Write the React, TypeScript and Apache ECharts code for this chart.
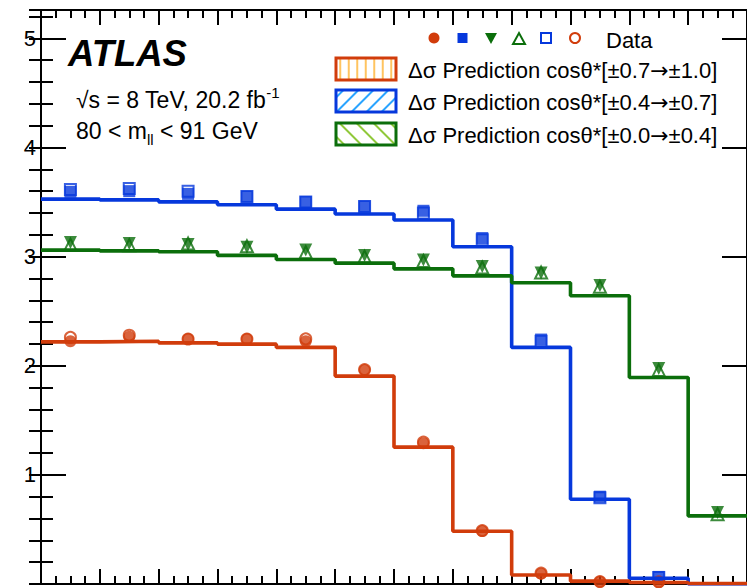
import React, { useEffect, useRef } from "react";
import * as echarts from "echarts";

// 12 bins on the horizontal axis (bin index 0..12)
const binCount = 12;
const yMax = 5.26;
const yTickLabels = ["1", "2", "3", "4", "5"];

// Step predictions, one value per bin
const predOuter = [2.219, 2.225, 2.21, 2.198, 2.168, 1.905, 1.254, 0.484, 0.083, 0.026, 0.014, 0.005]; // cosθ*[±0.7→±1.0]
const predMiddle = [3.527, 3.52, 3.502, 3.475, 3.435, 3.39, 3.335, 3.09, 2.168, 0.777, 0.053, 0.0]; // cosθ*[±0.4→±0.7]
const predCentral = [3.06, 3.053, 3.044, 3.011, 2.974, 2.94, 2.888, 2.824, 2.76, 2.641, 1.893, 0.624]; // cosθ*[±0.0→±0.4]

// Measured points (filled and open markers)
const dataOuterFilled = [2.225, 2.265, 2.245, 2.245, 2.224, 1.96, 1.29, 0.485, 0.095, 0.02, 0.015, null];
const dataOuterOpen = [2.26, 2.28, 2.245, 2.245, 2.246, 1.965, 1.3, 0.49, 0.1, 0.022, 0.02, null];
const dataMiddleFilled = [3.594, 3.6, 3.575, 3.55, 3.5, 3.46, 3.42, 3.17, 2.24, 0.8, 0.065, null];
const dataMiddleOpen = [3.616, 3.625, 3.6, 3.55, 3.5, 3.46, 3.4, 3.155, 2.225, 0.79, 0.06, null];
const dataCentralFilled = [3.13, 3.12, 3.11, 3.085, 3.06, 3.01, 2.97, 2.91, 2.85, 2.735, 1.975, 0.655];
const dataCentralOpen = [3.11, 3.105, 3.12, 3.095, 3.04, 3.0, 2.96, 2.9, 2.855, 2.725, 1.96, 0.64];

const legendRanges = [
  ["0.7", "1.0"],
  ["0.4", "0.7"],
  ["0.0", "0.4"],
];

const ORANGE = "#d13c0b";
const BLUE = "#0638dc";
const GREEN = "#0b6e0b";
const FONT = "'Liberation Sans', Arial, Helvetica, sans-serif";
const ARROW_FONT = "'DejaVu Sans', sans-serif";

function stepPoints(vals: number[]) {
  const pts = vals.map((v, i) => [i, v]);
  pts.push([vals.length, vals[vals.length - 1]]);
  return pts;
}

function centerPoints(vals: (number | null)[]) {
  return vals.map((v, i) => (v === null ? [i + 0.5, "-"] : [i + 0.5, v]));
}

// hatch strokes inside a legend box
function hatch(x0: number, y0: number, w: number, h: number, kind: string, step: number, color: string) {
  const out: any[] = [];
  const st = { stroke: color, lineWidth: 2 };
  if (kind === "v") {
    for (let x = x0 + step / 2; x < x0 + w; x += step) {
      out.push({ type: "line", shape: { x1: x, y1: y0, x2: x, y2: y0 + h }, style: st });
    }
  } else if (kind === "/") {
    for (let k = x0 + y0 + step / 2; k < x0 + w + y0 + h; k += step) {
      const xa = Math.max(x0, k - (y0 + h));
      const xb = Math.min(x0 + w, k - y0);
      if (xa < xb) out.push({ type: "line", shape: { x1: xa, y1: k - xa, x2: xb, y2: k - xb }, style: st });
    }
  } else {
    for (let k = x0 - (y0 + h) + step / 2; k < x0 + w - y0; k += step) {
      const xa = Math.max(x0, k + y0);
      const xb = Math.min(x0 + w, k + y0 + h);
      if (xa < xb) out.push({ type: "line", shape: { x1: xa, y1: xa - k, x2: xb, y2: xb - k }, style: st });
    }
  }
  return out;
}

export default function App() {
  const ref = useRef<HTMLDivElement>(null);

  useEffect(() => {
    if (!ref.current) return;
    const chart = echarts.init(ref.current, null, { renderer: "svg" });

    const black = { color: "#000", width: 2 };
    const xAxisBase = {
      type: "value",
      min: 0,
      max: binCount,
      interval: 1,
      axisLine: { show: true, onZero: false, lineStyle: black },
      axisTick: { show: true, inside: true, length: 15, lineStyle: black },
      minorTick: { show: true, splitNumber: 4, length: 8, lineStyle: black },
      axisLabel: { show: false },
      splitLine: { show: false },
    };
    const yMajor = (position: string, labels: boolean) => ({
      type: "value",
      position,
      min: 0,
      max: yMax,
      interval: 1,
      axisLine: { show: true, onZero: false, lineStyle: black },
      axisTick: { show: true, inside: true, length: 25, lineStyle: black },
      axisLabel: {
        show: labels,
        margin: 5,
        color: "#000",
        fontSize: 22,
        fontFamily: FONT,
        formatter: (v: number) => {
          const s = String(Math.round(v));
          return Math.abs(v - Math.round(v)) < 1e-6 && yTickLabels.includes(s) ? s : "";
        },
      },
      splitLine: { show: false },
    });
    const yMinor = (position: string) => ({
      type: "value",
      position,
      min: 0,
      max: yMax,
      interval: 0.2,
      axisLine: { show: false },
      axisTick: { show: true, inside: true, length: 12, lineStyle: black },
      axisLabel: { show: false },
      splitLine: { show: false },
    });

    const stepSeries = (vals: number[], color: string) => ({
      type: "line",
      step: "end",
      data: stepPoints(vals),
      symbol: "none",
      lineStyle: { color, width: 3.6 },
      xAxisIndex: 0,
      yAxisIndex: 0,
    });
    const markerSeries = (vals: (number | null)[], symbol: string, size: number, color: string, open: boolean, rotate = 0) => ({
      type: "scatter",
      data: centerPoints(vals),
      symbol,
      symbolSize: size,
      symbolRotate: rotate,
      itemStyle: open
        ? { color: "rgba(0,0,0,0)", borderColor: color, borderWidth: 2 }
        : { color },
      xAxisIndex: 0,
      yAxisIndex: 0,
    });

    const g: any[] = [];
    g.push({
      type: "text",
      x: 68,
      y: 53,
      style: { text: "ATLAS", font: `italic bold 36.5px ${FONT}`, fill: "#000", verticalAlign: "middle" },
    });
    g.push({
      type: "text",
      x: 76,
      y: 100,
      style: {
        text: "{n|√s = 8 TeV, 20.2 fb}{s|-1}",
        verticalAlign: "middle",
        rich: {
          n: { fontSize: 23, fontFamily: FONT, fill: "#000", lineHeight: 31 },
          s: { fontSize: 15, fontFamily: FONT, fill: "#000", lineHeight: 15, verticalAlign: "top" },
        },
      },
    });
    g.push({
      type: "text",
      x: 76,
      y: 131,
      style: {
        text: "{n|80 < m}{s|ll}{n| < 91 GeV}",
        verticalAlign: "middle",
        rich: {
          n: { fontSize: 23, fontFamily: FONT, fill: "#000", lineHeight: 31 },
          s: { fontSize: 15, fontFamily: FONT, fill: "#000", lineHeight: 15, verticalAlign: "bottom" },
        },
      },
    });

    // data markers row
    const my = 38;
    g.push({ type: "circle", shape: { cx: 434, cy: my, r: 5.5 }, style: { fill: ORANGE } });
    g.push({ type: "rect", shape: { x: 457.5, y: my - 5, width: 10, height: 10 }, style: { fill: BLUE } });
    g.push({ type: "polygon", shape: { points: [[485, my - 5], [497, my - 5], [491, my + 6]] }, style: { fill: GREEN } });
    g.push({ type: "polygon", shape: { points: [[513, my + 6], [525, my + 6], [519, my - 5]] }, style: { fill: "none", stroke: GREEN, lineWidth: 2 } });
    g.push({ type: "rect", shape: { x: 541, y: my - 5, width: 10, height: 10 }, style: { fill: "none", stroke: BLUE, lineWidth: 2 } });
    g.push({ type: "circle", shape: { cx: 575, cy: my, r: 5 }, style: { fill: "none", stroke: ORANGE, lineWidth: 2 } });
    g.push({
      type: "text",
      x: 606,
      y: 40,
      style: { text: "Data", fontSize: 22, fontFamily: FONT, fill: "#000", verticalAlign: "middle" },
    });

    const boxes = [
      { y: 58, border: ORANGE, hatchColor: "#ffc460", kind: "v", step: 8.5 },
      { y: 90, border: BLUE, hatchColor: "#2aa4ff", kind: "/", step: 15 },
      { y: 123, border: GREEN, hatchColor: "#90c83a", kind: "\\", step: 17 },
    ];
    boxes.forEach((b, i) => {
      const bx = 336, bw = 60, bh = 22;
      g.push({ type: "rect", shape: { x: bx, y: b.y, width: bw, height: bh }, style: { fill: "#fff" } });
      hatch(bx, b.y, bw, bh, b.kind, b.step, b.hatchColor).forEach((l) => g.push(l));
      g.push({ type: "rect", shape: { x: bx, y: b.y, width: bw, height: bh }, style: { fill: "none", stroke: b.border, lineWidth: 3 } });
      const [lo, hi] = legendRanges[i];
      g.push({
        type: "text",
        x: 408,
        y: b.y + bh / 2 + 1,
        style: {
          text: `{t|Δσ Prediction cosθ*[±${lo}}{a|→}{t|±${hi}]}`,
          verticalAlign: "middle",
          rich: {
            t: { fontSize: 22, fontFamily: FONT, fill: "#000" },
            a: { fontSize: 22, fontFamily: ARROW_FONT, fill: "#000" },
          },
        },
      });
    });

    chart.setOption({
      animation: false,
      backgroundColor: "#fff",
      grid: { left: 41, right: 0, top: 10, bottom: 4, containLabel: false },
      xAxis: [
        { ...xAxisBase, position: "bottom" },
        { ...xAxisBase, position: "top" },
      ],
      yAxis: [yMajor("left", true), yMinor("left"), yMajor("right", false), yMinor("right")],
      series: [
        stepSeries(predMiddle, BLUE),
        stepSeries(predCentral, GREEN),
        stepSeries(predOuter, ORANGE),
        markerSeries(dataOuterFilled, "circle", 12, ORANGE, false),
        markerSeries(dataMiddleFilled, "rect", 12, BLUE, false),
        markerSeries(dataCentralFilled, "triangle", 13, GREEN, false, 180),
        markerSeries(dataCentralOpen, "triangle", 12, GREEN, true),
        markerSeries(dataMiddleOpen, "rect", 11, BLUE, true),
        markerSeries(dataOuterOpen, "circle", 11, ORANGE, true),
      ],
      graphic: g,
    });

    return () => chart.dispose();
  }, []);

  return <div ref={ref} style={{ position: "absolute", left: 0, top: 0, width: 747, height: 588 }} />;
}
